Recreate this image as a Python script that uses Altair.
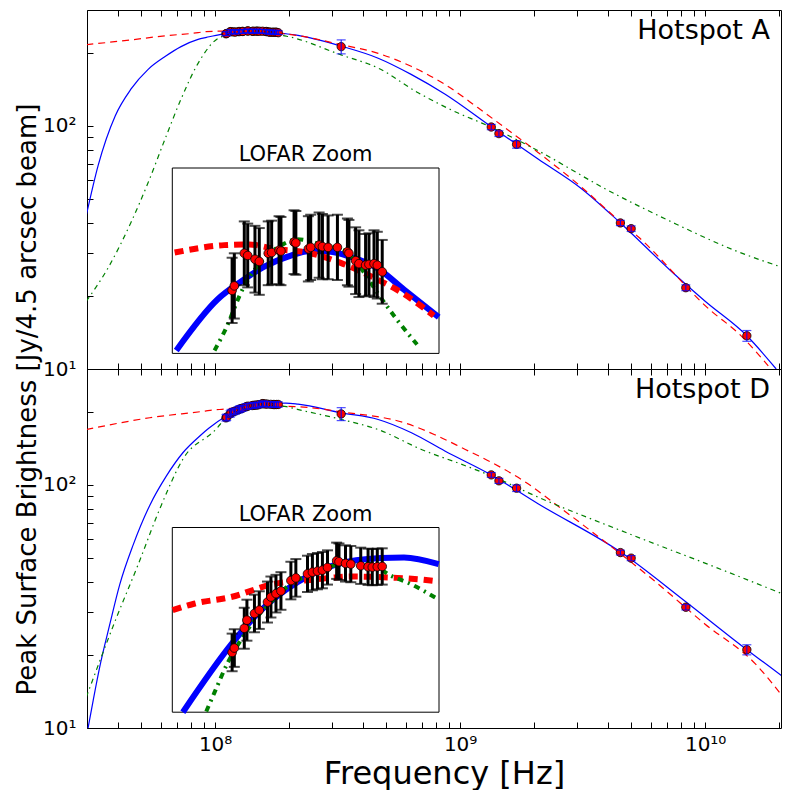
import altair as alt
import pandas as pd

FONT = "DejaVu Sans"
BLUE = "#0000ff"
RED = "#ff0000"
GREEN = "#008000"

# ---------------- Hotspot A (top panel) ----------------
A_blue_f = [2.98e7, 3.33e7, 3.91e7, 4.54e7, 5.33e7, 6.25e7, 7.26e7, 8.52e7, 9.22e7, 1.056e8, 1.14e8, 1.23e8,
            1.342e8, 1.432e8, 1.529e8, 1.633e8, 1.781e8, 1.944e8, 2.178e8, 3.27e8, 4.63e8, 6.31e8, 8.69e8,
            1.34e9, 2.08e9, 3.13e9, 4.51e9, 7.29e9, 1.0e10, 1.48e10, 1.95e10]
A_blue_S = [42.9, 68.7, 110, 142, 171, 193, 212, 227, 231.4, 238.3, 240.7, 242.7,
            244.2, 244.8, 244.7, 244.0, 242.5, 239.6, 235.9, 213, 190, 163, 135,
            99.3, 73.1, 55.2, 39.9, 25.2, 19.0, 13.7, 10.0]

A_red_f = [2.98e7, 4.54e7, 6.25e7, 8.52e7, 9.17e7, 1.079e8, 1.171e8, 1.271e8, 1.417e8, 1.58e8, 1.762e8,
           1.944e8, 2.143e8, 3.27e8, 4.63e8, 6.31e8, 8.69e8, 1.18e9, 1.62e9, 2.08e9, 3.13e9, 4.28e9,
           5.33e9, 1.06e10, 1.36e10, 1.81e10]
A_red_S = [216, 226, 235, 242, 244.6, 245.6, 245.7, 245.1, 244.6, 243.2, 241.2,
           239.0, 236.1, 216, 199, 176, 148, 119, 93.9, 77.8, 56.0, 42.2,
           35.0, 17.3, 14.1, 10.3]

A_green_f = [2.98e7, 3.66e7, 4.54e7, 5.33e7, 6.25e7, 7.26e7, 8.52e7, 1.045e8, 1.079e8, 1.152e8, 1.23e8,
             1.313e8, 1.371e8, 1.496e8, 1.597e8, 1.669e8, 1.781e8, 1.901e8, 2.029e8, 3.27e8, 4.63e8,
             6.74e8, 9.81e8, 1.22e9, 2.08e9, 3.90e9, 7.29e9, 1.36e10, 2.16e10]
A_green_S = [19.0, 26.1, 40.2, 58.5, 88.5, 129, 181, 231.4, 233.9, 240.1, 243.8,
             245.8, 246.4, 245.6, 244.9, 243.1, 239.2, 235.5, 232.2, 196, 173,
             137, 113, 103, 79.1, 55.2, 40.3, 30.4, 25.8]

OBS_f = [3.27e8, 1.34e9, 1.44e9, 1.70e9, 4.51e9, 4.99e9, 8.34e9, 1.48e10]
A_obs_S = [212, 99.0, 93.0, 84.0, 39.9, 37.8, 21.6, 13.7]
A_obs_err = [14, 2.5, 2.5, 3.0, 1.0, 1.0, 0.6, 0.7]

A_lofar_f = [1.107e8, 1.115e8, 1.152e8, 1.165e8, 1.193e8, 1.210e8, 1.246e8, 1.260e8, 1.291e8, 1.299e8,
             1.356e8, 1.364e8, 1.421e8, 1.432e8, 1.472e8, 1.488e8, 1.516e8, 1.563e8, 1.615e8, 1.623e8,
             1.659e8, 1.677e8, 1.714e8, 1.733e8, 1.762e8, 1.781e8, 1.810e8]
A_lofar_S = [239.5, 240.1, 244.5, 244.2, 243.7, 243.4, 244.5, 244.6, 244.9, 244.8,
             246.0, 245.9, 245.1, 245.3, 245.6, 245.4, 245.3, 245.3, 244.7, 244.5,
             243.5, 243.1, 242.9, 243.0, 243.1, 242.9, 242.0]
A_lofar_err = [4.4, 4.4, 4.3, 4.3, 4.5, 4.5, 4.3, 4.3, 4.6, 4.6,
               4.3, 4.3, 4.4, 4.4, 4.4, 4.4, 4.3, 4.4, 4.5, 4.5,
               4.5, 4.5, 4.2, 4.2, 4.5, 4.5, 4.3]

# ---------------- Hotspot D (bottom panel) ----------------
D_blue_f = [3.03e7, 3.18e7, 3.38e7, 3.72e7, 4.08e7, 4.63e7, 5.41e7, 6.33e7, 7.40e7, 8.66e7, 9.42e7,
            1.103e8, 1.204e8, 1.371e8, 1.563e8, 1.80e8, 1.944e8, 2.178e8, 3.28e8, 4.63e8, 6.33e8,
            8.66e8, 1.34e9, 2.08e9, 4.55e9, 8.26e9, 1.48e10, 2.18e10]
D_blue_S = [10.0, 13.0, 17.8, 26.8, 38.9, 56.7, 82.4, 109, 136, 159, 171,
            191.1, 200.4, 209.7, 215.1, 216.9, 217.1, 215.1, 198, 186, 164,
            138, 110, 83.7, 52.7, 33.3, 21.0, 15.7]

D_red_f = [2.98e7, 5.41e7, 9.11e7, 9.77e7, 1.103e8, 1.271e8, 1.402e8, 1.529e8, 1.633e8, 1.901e8,
           2.12e8, 2.178e8, 3.38e8, 5.95e8, 7.88e8, 1.05e9, 1.34e9, 1.84e9, 2.59e9, 3.90e9,
           6.23e9, 9.97e9, 1.60e10, 2.18e10]
D_red_S = [169, 189, 201.4, 203.3, 205.3, 209.2, 210.2, 211.0, 211.4, 211.0,
           210.2, 209.9, 199, 180, 161, 140, 124, 103, 79.9, 58.4,
           40.2, 26.8, 18.4, 12.6]

D_green_f = [2.98e7, 3.96e7, 4.85e7, 5.95e7, 7.40e7, 1.017e8, 1.045e8, 1.091e8, 1.14e8, 1.191e8,
             1.257e8, 1.342e8, 1.417e8, 1.513e8, 1.597e8, 1.743e8, 1.86e8, 1.986e8, 2.166e8, 3.28e8,
             4.63e8, 6.95e8, 1.05e9, 1.34e9, 2.08e9, 4.85e9, 1.17e10, 2.18e10]
D_green_S = [13.4, 28.5, 47.0, 79.9, 128, 171.2, 176.9, 185.7, 192.6, 198.4,
             203.8, 209.2, 211.7, 214.1, 215.3, 215.1, 211.7, 209.2, 204.8, 186,
             169, 140, 120, 109, 89.1, 63.2, 44.8, 34.9]

D_obs_S = [196, 110, 104, 97.0, 52.7, 50.0, 31.4, 21.0]
D_obs_err = [12, 2.5, 2.5, 3.0, 1.2, 1.2, 0.8, 1.0]

D_lofar_f = [1.107e8, 1.115e8, 1.152e8, 1.162e8, 1.191e8, 1.210e8, 1.243e8, 1.257e8, 1.278e8, 1.299e8,
             1.342e8, 1.364e8, 1.417e8, 1.440e8, 1.464e8, 1.488e8, 1.513e8, 1.559e8, 1.571e8, 1.605e8,
             1.633e8, 1.687e8, 1.728e8, 1.752e8, 1.781e8, 1.810e8]
D_lofar_S = [188.8, 190.1, 196.0, 198.4, 200.4, 201.4, 203.8, 205.3, 206.3, 207.1,
             210.2, 211.0, 212.2, 212.7, 213.0, 213.3, 214.1, 216.1, 215.8, 215.3,
             215.1, 214.6, 214.3, 214.2, 214.3, 214.4]
D_lofar_err = [5.6, 5.6, 6.1, 6.1, 5.6, 5.6, 6.1, 6.1, 5.6, 5.6,
               5.6, 5.6, 5.4, 5.4, 5.4, 5.4, 5.1, 5.4, 5.4, 5.4,
               5.4, 5.4, 5.4, 5.4, 5.4, 5.4]

# ---------------- axes / layout ----------------
X_DOMAIN = [3.0e7, 2.04e10]
Y_DOMAIN = [10, 300]
INSET_X_DOMAIN = [9.1e7, 2.18e8]
A_INSET_Y_DOMAIN = [231, 256]
D_INSET_Y_DOMAIN = [171, 226]

PANEL_W = 694
PANEL_H = 359
INSET_X_RANGE = [85.3, 352]
A_INSET_Y_RANGE = [343.4, 158.0]
D_INSET_Y_RANGE = [343.2, 158.5]

X_TICKS = [3e7, 4e7, 5e7, 6e7, 7e7, 8e7, 9e7,
           1e8, 2e8, 3e8, 4e8, 5e8, 6e8, 7e8, 8e8, 9e8,
           1e9, 2e9, 3e9, 4e9, 5e9, 6e9, 7e9, 8e9, 9e9, 1e10, 2e10]
Y_TICKS = [10, 20, 30, 40, 50, 60, 70, 80, 90, 100, 200]
X_LABELS = ("datum.value == 100000000 ? '10⁸' : datum.value == 1000000000 ? '10⁹' : "
            "datum.value == 10000000000 ? '10¹⁰' : ''")
Y_LABELS = "datum.value == 10 ? '10¹' : datum.value == 100 ? '10²' : ''"


def curve(f, s):
    return pd.DataFrame({"f": f, "S": s})


def obs(f, s, e):
    return pd.DataFrame({"f": f, "S": s,
                         "lo": [a - b for a, b in zip(s, e)],
                         "hi": [a + b for a, b in zip(s, e)]})


def make_panel(label, blue, red, green, observed, lofar, iy_dom, iy_rng, is_bottom):
    xs = alt.Scale(type="log", domain=X_DOMAIN, nice=False)
    ys = alt.Scale(type="log", domain=Y_DOMAIN, nice=False)

    xkw = dict(orient="bottom", values=X_TICKS, tickSize=6, offset=-6, domain=False,
               grid=False, labelFlush=False, labelOverlap=False)
    if is_bottom:
        xkw.update(labelExpr=X_LABELS, labelFontSize=20, labelPadding=6,
                   titleFontSize=32, titleX=357, titlePadding=4, titleFontWeight="normal")
    else:
        xkw.update(labels=False)
    x_axis = alt.Axis(**xkw)

    ykw = dict(orient="left", values=Y_TICKS, labelExpr=Y_LABELS, tickSize=6, offset=-6,
               domain=False, grid=False, labelFontSize=20, labelPadding=11,
               labelOverlap=False, labelFlush=False)
    if not is_bottom:
        ykw.update(titleFontSize=26, titleX=-58, titleY=389, titleAngle=270,
                   titleAlign="center", titleBaseline="alphabetic", titleFontWeight="normal")
    y_axis = alt.Axis(**ykw)

    top_axis = alt.Axis(orient="top", values=X_TICKS, labels=False, tickSize=6, offset=-6,
                        domain=False, grid=False)

    X0 = alt.X("f:Q", scale=xs, axis=None)
    Y0 = alt.Y("S:Q", scale=ys, axis=None)

    bdf, rdf, gdf = curve(*blue), curve(*red), curve(*green)
    odf = obs(*observed)
    ldf = obs(*lofar)

    line_blue = alt.Chart(bdf).mark_line(color=BLUE, strokeWidth=1.2, clip=True,
                                         interpolate="monotone").encode(
        x=alt.X("f:Q", scale=xs, axis=x_axis,
                title="Frequency [Hz]" if is_bottom else None),
        y=alt.Y("S:Q", scale=ys, axis=y_axis,
                title=None if is_bottom else "Peak Surface Brightness [Jy/4.5 arcsec beam]"))
    line_red = alt.Chart(rdf).mark_line(color=RED, strokeWidth=1.2, strokeDash=[7, 5],
                                        clip=True, interpolate="monotone").encode(x=X0, y=Y0)
    line_green = alt.Chart(gdf).mark_line(color=GREEN, strokeWidth=1.2, interpolate="monotone",
                                          strokeDash=[5, 4, 1.5, 4], clip=True).encode(x=X0, y=Y0)

    def points(df):
        return alt.Chart(df).mark_circle(size=70, fill=RED, stroke="black", strokeWidth=0.8,
                                         opacity=1, clip=True).encode(x=X0, y=Y0)

    def errs(df):
        rule = alt.Chart(df).mark_rule(color=BLUE, strokeWidth=1, clip=True).encode(
            x=X0, y=alt.Y("lo:Q", scale=ys, axis=None), y2=alt.Y2("hi"))
        lo = alt.Chart(df).mark_tick(color=BLUE, orient="horizontal", size=9, thickness=1.2,
                                     clip=True).encode(x=X0, y=alt.Y("lo:Q", scale=ys, axis=None))
        hi = alt.Chart(df).mark_tick(color=BLUE, orient="horizontal", size=9, thickness=1.2,
                                     clip=True).encode(x=X0, y=alt.Y("hi:Q", scale=ys, axis=None))
        return [rule, lo, hi]

    label_df = pd.DataFrame({"f": [1.84e10], "S": [227.0], "t": [label]})
    text = alt.Chart(label_df).mark_text(align="right", baseline="alphabetic", fontSize=27,
                                         font=FONT, color="black").encode(x=X0, y=Y0, text="t:N")

    top_ticks = alt.Chart(bdf).mark_line(opacity=0, clip=True).encode(
        x=alt.X("f:Q", scale=xs, axis=top_axis, title=None), y=Y0)

    # ---------- inset ----------
    ixs = alt.Scale(type="log", domain=INSET_X_DOMAIN, range=INSET_X_RANGE, nice=False)
    iys = alt.Scale(type="linear", domain=iy_dom, range=iy_rng, nice=False, zero=False)
    IX = alt.X("f:Q", scale=ixs, axis=None)
    IY = alt.Y("S:Q", scale=iys, axis=None)

    frame_df = pd.DataFrame({"f": [INSET_X_DOMAIN[0]], "f2": [INSET_X_DOMAIN[1]],
                             "S": [iy_dom[0]], "S2": [iy_dom[1]]})
    frame = alt.Chart(frame_df).mark_rect(fill="white", stroke="black", strokeWidth=1).encode(
        x=IX, x2=alt.X2("f2"), y=IY, y2=alt.Y2("S2"))

    fx = alt.FieldRangePredicate(field="f", range=[8.9e7, 2.2e8])
    fy = alt.FieldRangePredicate(field="S", range=[iy_dom[0] - 0.5, iy_dom[1]])

    ib = alt.Chart(bdf).transform_filter(fx).transform_filter(fy).mark_line(
        color=BLUE, strokeWidth=6, interpolate="monotone").encode(x=IX, y=IY)
    ir = alt.Chart(rdf).transform_filter(fx).transform_filter(fy).mark_line(
        color=RED, strokeWidth=6, strokeDash=[9, 6], interpolate="monotone").encode(x=IX, y=IY)
    ig = alt.Chart(gdf).transform_filter(fx).transform_filter(fy).mark_line(
        color=GREEN, strokeWidth=4, strokeDash=[6, 5, 2, 5], interpolate="monotone").encode(x=IX, y=IY)

    irule = alt.Chart(ldf).mark_rule(color="black", strokeWidth=3).encode(
        x=IX, y=alt.Y("lo:Q", scale=iys, axis=None), y2=alt.Y2("hi"))
    ilo = alt.Chart(ldf).mark_tick(color="black", orient="horizontal", size=11, thickness=2).encode(
        x=IX, y=alt.Y("lo:Q", scale=iys, axis=None))
    ihi = alt.Chart(ldf).mark_tick(color="black", orient="horizontal", size=11, thickness=2).encode(
        x=IX, y=alt.Y("hi:Q", scale=iys, axis=None))
    ipts = alt.Chart(ldf).mark_circle(size=75, fill=RED, stroke="black", strokeWidth=0.8,
                                      opacity=1).encode(x=IX, y=IY)

    ititle_df = pd.DataFrame({"f": [1.408e8], "S": [float(iy_dom[1])], "t": ["LOFAR Zoom"]})
    ititle = alt.Chart(ititle_df).mark_text(baseline="alphabetic", dy=-7, fontSize=21, font=FONT,
                                            color="black").encode(x=IX, y=IY, text="t:N")

    layers = [line_blue, line_red, line_green,
              points(odf), *errs(odf),
              points(ldf), *errs(ldf),
              text, top_ticks,
              frame, ib, ir, ig, irule, ilo, ihi, ipts, ititle]

    return alt.layer(*layers).resolve_scale(x="independent", y="independent").properties(
        width=PANEL_W, height=PANEL_H)


top = make_panel("Hotspot A", (A_blue_f, A_blue_S), (A_red_f, A_red_S), (A_green_f, A_green_S),
                 (OBS_f, A_obs_S, A_obs_err), (A_lofar_f, A_lofar_S, A_lofar_err),
                 A_INSET_Y_DOMAIN, A_INSET_Y_RANGE, False)
bottom = make_panel("Hotspot D", (D_blue_f, D_blue_S), (D_red_f, D_red_S), (D_green_f, D_green_S),
                    (OBS_f, D_obs_S, D_obs_err), (D_lofar_f, D_lofar_S, D_lofar_err),
                    D_INSET_Y_DOMAIN, D_INSET_Y_RANGE, True)

chart = alt.vconcat(top, bottom, spacing=0, bounds="flush").properties(
    padding={"left": 5, "top": 1, "right": 0, "bottom": 0}
).configure_view(stroke="black", strokeWidth=1).configure_axis(
    labelFont=FONT, titleFont=FONT, labelColor="black", titleColor="black",
    tickColor="black", tickWidth=1, grid=False)

chart.save("out.html", embed_options={"renderer": "svg", "actions": False})
